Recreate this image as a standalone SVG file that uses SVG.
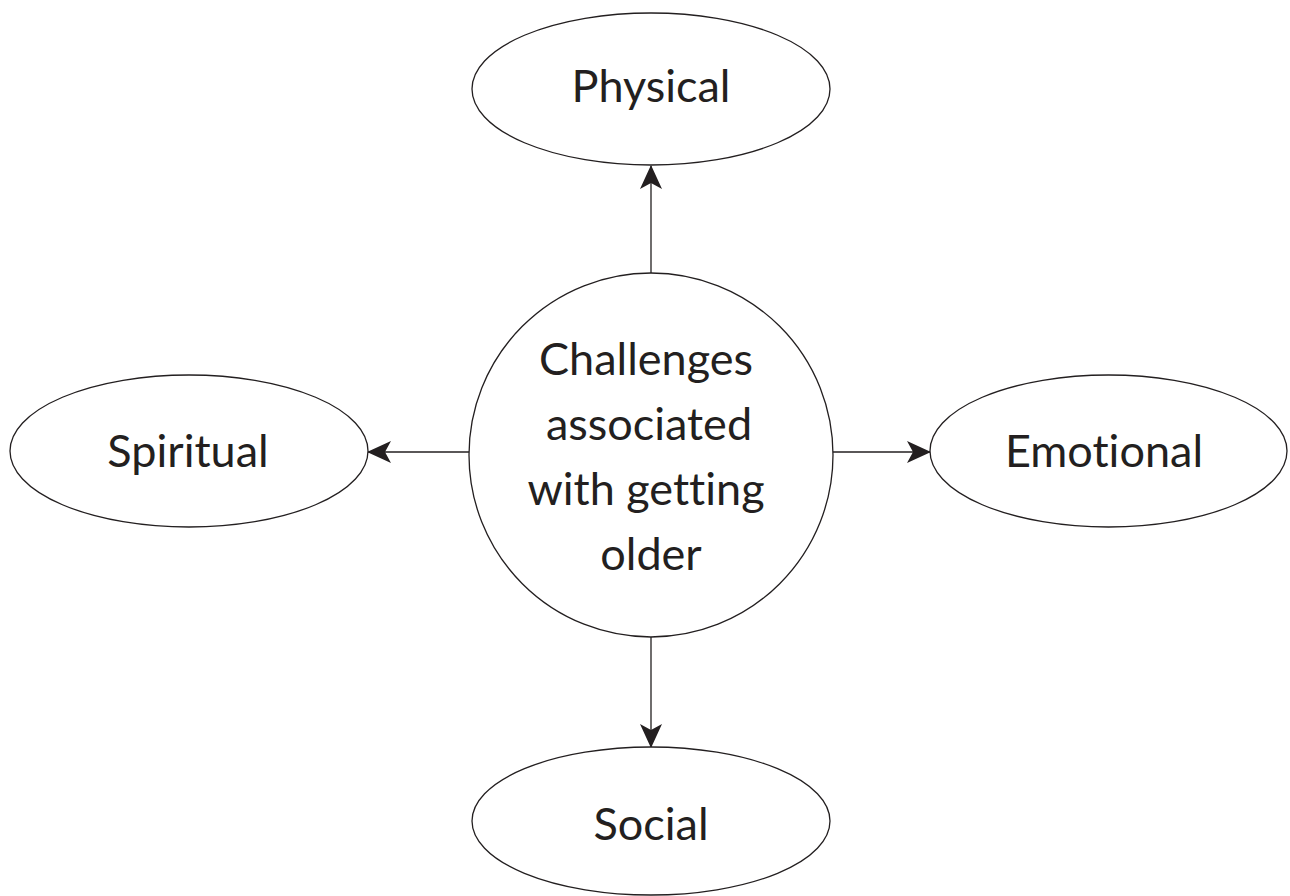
<svg xmlns="http://www.w3.org/2000/svg" width="1290" height="896" viewBox="0 0 1290 896">
<defs>
<style>
.shape{fill:#fff;stroke:#231f20;stroke-width:1.3}
.lbl{font-family:Lato,"Open Sans",sans-serif;font-size:45px;fill:#231f20;text-anchor:middle;font-variant-ligatures:none;font-feature-settings:"liga" 0}
.edge{stroke:#231f20;stroke-width:1.3;fill:none}
</style>
<marker id="ah" viewBox="0 0 24 24" refX="23" refY="12" markerWidth="24" markerHeight="24" markerUnits="userSpaceOnUse" orient="auto">
<path d="M0,1 L24,12 L0,23 L6,12 Z" fill="#231f20"/>
</marker>
</defs>
<rect width="1290" height="896" fill="#fff"/>
<g id="connectors">
<line class="edge" x1="651" y1="273" x2="651" y2="166" marker-end="url(#ah)"/>
<line class="edge" x1="469" y1="452" x2="368" y2="452" marker-end="url(#ah)"/>
<line class="edge" x1="833" y1="452" x2="930" y2="452" marker-end="url(#ah)"/>
<line class="edge" x1="651" y1="637" x2="651" y2="747" marker-end="url(#ah)"/>
</g>
<g id="center">
<circle class="shape" cx="651" cy="455" r="182"/>
<text class="lbl" x="646" y="375">Challenges</text>
<text class="lbl" x="649" y="440">associated</text>
<text class="lbl" x="646" y="505">with getting</text>
<text class="lbl" x="651" y="570">older</text>
</g>
<g id="physical">
<ellipse class="shape" cx="651" cy="89" rx="179" ry="76"/>
<text class="lbl" x="651" y="102">Physical</text>
</g>
<g id="spiritual">
<ellipse class="shape" cx="189" cy="451" rx="179" ry="76"/>
<text class="lbl" x="188" y="467">Spiritual</text>
</g>
<g id="emotional">
<ellipse class="shape" cx="1108.5" cy="451" rx="178.5" ry="76"/>
<text class="lbl" x="1104" y="467">Emotional</text>
</g>
<g id="social">
<ellipse class="shape" cx="651" cy="821" rx="179" ry="74"/>
<text class="lbl" x="651" y="840">Social</text>
</g>
</svg>
